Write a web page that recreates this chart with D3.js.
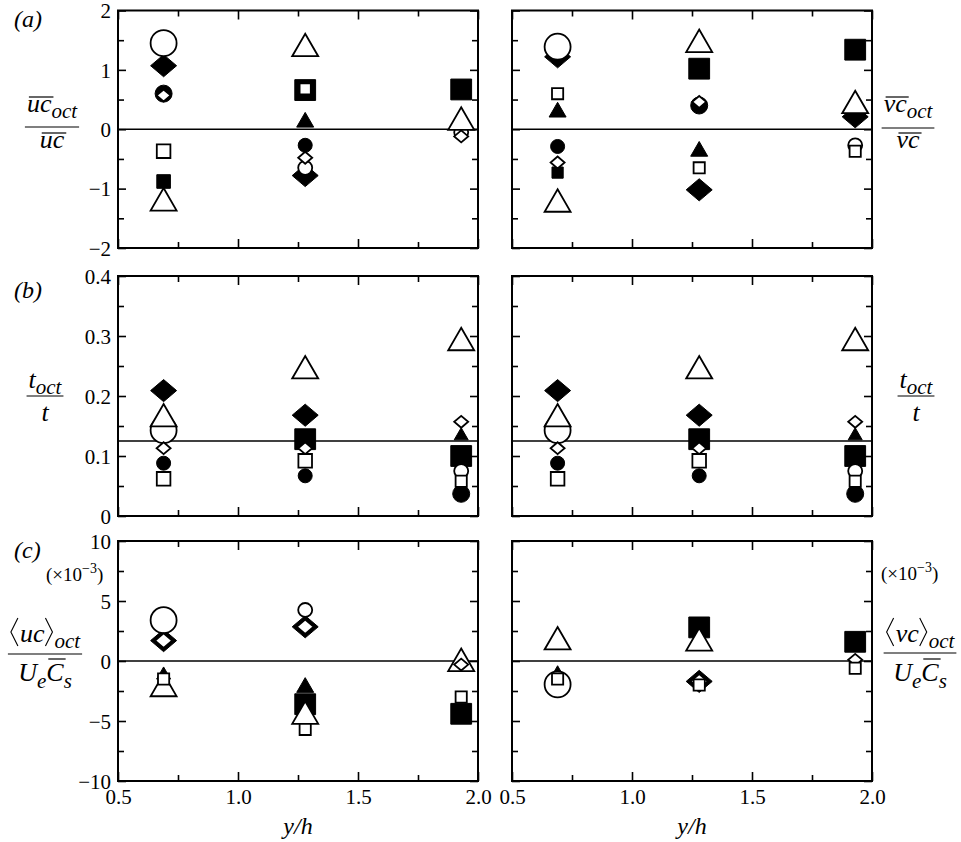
<!DOCTYPE html>
<html><head><meta charset="utf-8">
<script src="https://cdn.jsdelivr.net/npm/d3@7"></script>
<style>
html,body{margin:0;padding:0;background:#fff;}
svg{display:block;}
text{font-family:"Liberation Serif","Times New Roman",Times,serif;fill:#000;}
</style></head><body>
<svg id="chart" width="961" height="842"></svg>
<script>
// ---- data -------------------------------------------------------------
// wall-normal measurement positions y/h
const heights = [0.69, 1.28, 1.93];
const xTickLabels = [0.5, 1.0, 1.5, 2.0];
const xMinorTicks = [0.75, 1.25, 1.75];

// octant series (drawing order): filled square, filled circle, filled triangle,
// filled diamond, open circle, open triangle, open diamond, open square
const octants = ["fs", "fc", "ft", "fd", "oc", "ot", "od", "os"];

// (a) octant share of the streamwise flux, uc_oct / uc
const uFluxRatio = [
  [-0.88, 0.66, 0.67],
  [0.60, -0.27, null],
  [null, 0.16, null],
  [1.07, -0.78, null],
  [1.45, -0.65, -0.05],
  [-1.18, 1.42, 0.18],
  [0.57, -0.48, -0.12],
  [-0.37, 0.68, null]
];
// (a) octant share of the wall-normal flux, vc_oct / vc
const vFluxRatio = [
  [-0.73, 1.02, 1.34],
  [-0.29, 0.40, null],
  [0.33, -0.33, null],
  [1.22, -1.02, 0.21],
  [1.39, null, -0.27],
  [-1.20, 1.49, 0.46],
  [-0.56, 0.46, null],
  [0.60, -0.65, -0.37]
];
// (b) fraction of time spent in each octant, t_oct / t
const timeFraction = [
  [null, 0.128, 0.100],
  [0.088, 0.067, 0.037],
  [null, null, 0.137],
  [0.209, 0.168, null],
  [0.143, null, 0.075],
  [0.168, 0.248, 0.295],
  [0.113, 0.113, 0.157],
  [0.062, 0.092, 0.058]
];
// (c) octant-averaged fluxes, in units of 1e-3
const uMeanFlux = [
  [null, -3.6, -4.4],
  [null, null, null],
  [-1.0, -2.0, null],
  [1.7, 2.85, null],
  [3.4, 4.25, null],
  [-2.0, -4.3, 0.1],
  [1.7, 2.85, -0.3],
  [-1.5, -5.7, -3.0]
];
const vMeanFlux = [
  [null, 2.8, 1.6],
  [null, null, null],
  [-0.9, null, null],
  [null, -1.7, null],
  [-1.95, null, null],
  [1.9, 1.8, null],
  [null, -1.7, 0.1],
  [-1.5, -2.0, -0.6]
];

const yTicksA = [-2, -1, 0, 1, 2];
const yTicksB = [0, 0.1, 0.2, 0.3, 0.4];
const yTicksC = [-10, -5, 0, 5, 10];
const octantShare = 0.125;   // 1/8: equal time in every octant

// ---- styling ------------------------------------------------------------
// marker size class per octant row and position (L large, M medium, S small)
const sizeA_u = ["MLL", "MS-", "-M-", "LL-", "LSS", "LLL", "SSS", "MS-"];
const sizeA_v = ["SLL", "SM-", "MM-", "LLL", "L-S", "LLL", "SS-", "SSS"];
const sizeB   = ["-LL", "SSM", "--S", "LL-", "L-S", "LLL", "SSS", "MMS"];
const sizeC_u = ["-LL", "---", "SM-", "LL-", "LS-", "LLL", "MMS", "SSS"];
const sizeC_v = ["-LL", "---", "S--", "-L-", "L--", "LL-", "-MS", "SSS"];
const radius = {L: 13, M: 8.5, S: 7};

const shapeOf = {
  circle: {draw(ctx, r) { ctx.moveTo(r, 0); ctx.arc(0, 0, r, 0, 2 * Math.PI); }},
  square: {draw(ctx, r) { const h = r * 0.8; ctx.rect(-h, -h, 2 * h, 2 * h); }},
  triangle: {draw(ctx, r) {
    const h = r * Math.sqrt(3) / 2;
    ctx.moveTo(0, -h); ctx.lineTo(r, h); ctx.lineTo(-r, h); ctx.closePath();
  }},
  diamond: {draw(ctx, r) {
    const h = r * 0.85;
    ctx.moveTo(0, -h); ctx.lineTo(r, 0); ctx.lineTo(0, h); ctx.lineTo(-r, 0); ctx.closePath();
  }}
};
const markerStyle = {
  fs: {shape: "square", filled: true},
  fc: {shape: "circle", filled: true},
  ft: {shape: "triangle", filled: true},
  fd: {shape: "diamond", filled: true},
  oc: {shape: "circle", filled: false},
  ot: {shape: "triangle", filled: false},
  od: {shape: "diamond", filled: false},
  os: {shape: "square", filled: false}
};

const FONT = '"Liberation Serif","Times New Roman",Times,serif';
const colRange = [[118, 478], [512, 872]];
const rowRange = [[248, 10.5], [516, 276], [781, 541]];
const minus = v => (v < 0 ? "\u2212" + Math.abs(v) : String(v));

const svg = d3.select("#chart");

function drawPanel(opt) {
  const x = d3.scaleLinear().domain([0.5, 2.0]).range(colRange[opt.col]);
  const y = d3.scaleLinear().domain(opt.domain).range(rowRange[opt.row]);
  const [x0, x1] = x.range();
  const [y1, y0] = y.range();
  const g = svg.append("g");

  // reference line
  g.append("line").attr("x1", x0).attr("x2", x1)
    .attr("y1", y(opt.ref)).attr("y2", y(opt.ref))
    .attr("stroke", "#000").attr("stroke-width", 1.6);

  // markers
  opt.values.forEach((row, i) => {
    const key = octants[i];
    const st = markerStyle[key];
    row.forEach((v, j) => {
      if (v === null) return;
      const r = radius[opt.sizes[i][j]];
      g.append("path")
        .attr("d", d3.symbol().type(shapeOf[st.shape]).size(r)())
        .attr("transform", `translate(${x(heights[j])},${y(v)})`)
        .attr("fill", st.filled ? "#000" : "#fff")
        .attr("stroke", "#000")
        .attr("stroke-width", st.filled ? 1 : 1.8);
    });
  });

  // inward ticks on all four sides
  const tickAxis = (axis, values, len, tx, ty) => {
    const a = g.append("g").attr("transform", `translate(${tx},${ty})`)
      .call(axis.tickValues(values).tickSize(-len).tickSizeOuter(0).tickFormat(""));
    a.select(".domain").remove();
    a.selectAll("line").attr("stroke", "#000").attr("stroke-width", 1.6);
  };
  const yMinor = d3.range(opt.domain[0], opt.domain[1], opt.step / 2)
    .filter((d, i) => i % 2 === 1);
  tickAxis(d3.axisLeft(y), opt.ticks, 8, x0, 0);
  tickAxis(d3.axisLeft(y), yMinor, 6, x0, 0);
  tickAxis(d3.axisRight(y), opt.ticks, 8, x1, 0);
  tickAxis(d3.axisRight(y), yMinor, 6, x1, 0);
  tickAxis(d3.axisBottom(x), xTickLabels, 9, 0, y1);
  tickAxis(d3.axisBottom(x), xMinorTicks, 6, 0, y1);
  tickAxis(d3.axisTop(x), xTickLabels, 9, 0, y0);
  tickAxis(d3.axisTop(x), xMinorTicks, 6, 0, y0);

  // frame
  g.append("rect").attr("x", x0).attr("y", y0)
    .attr("width", x1 - x0).attr("height", y1 - y0)
    .attr("fill", "none").attr("stroke", "#000").attr("stroke-width", 2);

  if (opt.col === 0) {
    const la = g.append("g").attr("transform", `translate(${x0 - 1},0)`)
      .call(d3.axisLeft(y).tickValues(opt.ticks).tickSize(0).tickPadding(6).tickFormat(opt.fmt));
    la.select(".domain").remove();
    la.attr("font-family", FONT);
    la.selectAll("text").attr("font-family", FONT).attr("font-size", 21).attr("dy", "0.34em");
  }
  if (opt.row === 2) {
    const lb = g.append("g").attr("transform", `translate(0,${y1})`)
      .call(d3.axisBottom(x).tickValues(xTickLabels).tickSize(0).tickPadding(8).tickFormat(d3.format(".1f")));
    lb.select(".domain").remove();
    lb.attr("font-family", FONT);
    lb.selectAll("text").attr("font-family", FONT).attr("font-size", 21).attr("dy", "0.72em");
    svg.append("text").attr("x", (x0 + x1) / 2).attr("y", 834)
      .attr("text-anchor", "middle").style("font-size", "24px").style("font-style", "italic")
      .text("y/h");
  }
}

const fmtB = d => (d === 0 ? "0" : d3.format(".1f")(d));
drawPanel({row: 0, col: 0, domain: [-2, 2], step: 1, ticks: yTicksA, ref: 0, values: uFluxRatio, sizes: sizeA_u, fmt: minus});
drawPanel({row: 0, col: 1, domain: [-2, 2], step: 1, ticks: yTicksA, ref: 0, values: vFluxRatio, sizes: sizeA_v});
drawPanel({row: 1, col: 0, domain: [0, 0.4], step: 0.1, ticks: yTicksB, ref: octantShare, values: timeFraction, sizes: sizeB, fmt: fmtB});
drawPanel({row: 1, col: 1, domain: [0, 0.4], step: 0.1, ticks: yTicksB, ref: octantShare, values: timeFraction, sizes: sizeB});
drawPanel({row: 2, col: 0, domain: [-10, 10], step: 5, ticks: yTicksC, ref: 0, values: uMeanFlux, sizes: sizeC_u, fmt: minus});
drawPanel({row: 2, col: 1, domain: [-10, 10], step: 5, ticks: yTicksC, ref: 0, values: vMeanFlux, sizes: sizeC_v});

// ---- axis titles written as small formulas --------------------------------
function layoutRow(parent, items, baseline) {
  const grp = parent.append("g");
  let x = 0;
  items.forEach(it => {
    if (it.br) {
      const w = 7, top = baseline - 24, bot = baseline + 4, mid = (top + bot) / 2;
      const d = it.br === "l"
        ? `M${x + w + 1},${top} L${x + 1},${mid} L${x + w + 1},${bot}`
        : `M${x + 1},${top} L${x + w + 1},${mid} L${x + 1},${bot}`;
      grp.append("path").attr("d", d).attr("fill", "none").attr("stroke", "#000").attr("stroke-width", 1.1);
      x += w + 3;
      return;
    }
    const t = grp.append("text").attr("x", x).attr("y", baseline + (it.dy || 0))
      .style("font-size", it.size + "px")
      .style("font-style", it.italic === false ? "normal" : "italic")
      .text(it.t);
    const w = t.node().getComputedTextLength();
    if (it.over) {
      grp.append("line").attr("x1", x + 2).attr("x2", x + w + 2)
        .attr("y1", baseline - it.over).attr("y2", baseline - it.over)
        .attr("stroke", "#000").attr("stroke-width", 1.2);
    }
    x += w + (it.gap || 0);
  });
  return {grp, width: x};
}
function fraction(cx, lineY, num, numBase, den, denBase) {
  const g = svg.append("g");
  const a = layoutRow(g, num, numBase);
  const b = layoutRow(g, den, denBase);
  a.grp.attr("transform", `translate(${cx - a.width / 2},0)`);
  b.grp.attr("transform", `translate(${cx - b.width / 2},0)`);
  const w = Math.max(a.width, b.width) + 4;
  g.append("line").attr("x1", cx - w / 2).attr("x2", cx + w / 2)
    .attr("y1", lineY).attr("y2", lineY).attr("stroke", "#000").attr("stroke-width", 1.2);
}

const big = 26, sub = 21;
fraction(52, 127, [{t: "uc", size: big, over: 15}, {t: "oct", size: sub, dy: 6}], 112,
  [{t: "uc", size: big, over: 15}], 148);
fraction(908, 128, [{t: "vc", size: big, over: 15}, {t: "oct", size: sub, dy: 6}], 112,
  [{t: "vc", size: big, over: 15}], 148);
fraction(45, 396, [{t: "t", size: big}, {t: "oct", size: sub, dy: 6}], 388,
  [{t: "t", size: big}], 421);
fraction(916, 396, [{t: "t", size: big}, {t: "oct", size: sub, dy: 6}], 388,
  [{t: "t", size: big}], 421);
const denC = [{t: "U", size: big}, {t: "e", size: sub, dy: 7}, {t: "C", size: big, over: 22}, {t: "s", size: sub, dy: 7}];
fraction(45, 654, [{br: "l"}, {t: "uc", size: big}, {br: "r"}, {t: "oct", size: sub, dy: 6}], 642, denC, 681);
fraction(920, 653, [{br: "l"}, {t: "vc", size: big}, {br: "r"}, {t: "oct", size: sub, dy: 6}], 642, denC, 681);

// panel letters
[["(a)", 27], ["(b)", 298], ["(c)", 558]].forEach(([s, yb]) => {
  svg.append("text").attr("x", 14).attr("y", yb)
    .style("font-size", "24px").style("font-style", "italic").text(s);
});

// scale factor notes for (c)
[[46, 581], [881, 580]].forEach(([xp, yb]) => {
  const t = svg.append("text").attr("x", xp).attr("y", yb).style("font-size", "19px");
  t.append("tspan").text("(\u00d710");
  t.append("tspan").attr("dy", -8).style("font-size", "14px").text("\u22123");
  t.append("tspan").attr("dy", 8).text(")");
});
</script>
</body></html>
